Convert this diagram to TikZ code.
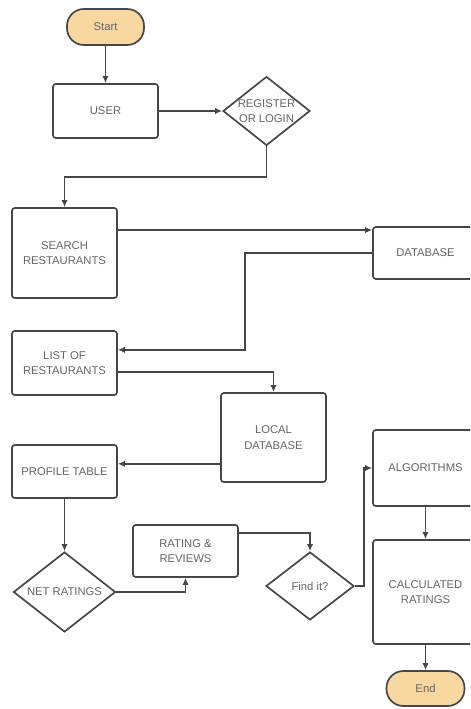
\documentclass[tikz,border=0pt]{standalone}
\usepackage{fontspec}
\setmainfont{Liberation Sans}
\usetikzlibrary{shapes.geometric,arrows.meta,calc}
\definecolor{linegray}{RGB}{70,70,70}
\definecolor{textgray}{RGB}{100,100,100}
\definecolor{termfill}{RGB}{249,215,160}
\newcommand{\pxu}{0.025cm}
\newcommand{\boxw}{105*\pxu}
\tikzset{
    procbox/.style={rectangle, draw=linegray, line width=1.2pt, rounded corners=2pt, minimum width=\boxw, align=center, text=textgray, font=\fontsize{8}{11}\selectfont},
    termbox/.style={rectangle, draw=linegray, line width=1.2pt, rounded corners=12pt, fill=termfill, text=textgray, font=\fontsize{8}{11}\selectfont},
    decision/.style={diamond, draw=linegray, line width=1.2pt, inner sep=0pt},
    dtext/.style={align=center, text=textgray, font=\fontsize{8}{11}\selectfont},
    arr/.style={draw=linegray, line width=1.2pt, -{Latex[length=5pt,width=4.5pt]}}
}

\begin{document}
\begin{tikzpicture}[x=\pxu, y=-\pxu]
    \useasboundingbox (0,0) rectangle (470,709);
    \clip (0,0) rectangle (470,709);

    \node[termbox, minimum width=77*\pxu, minimum height=36*\pxu] (start) at (105.5,27) {Start};
    \node[procbox, minimum height=54*\pxu] (user) at (105.5,111) {USER};
    \node[decision, minimum width=87*\pxu, minimum height=69*\pxu] (reg) at (266.5,111) {};
    \node[dtext] (regtext) at (reg) {REGISTER\\OR LOGIN};
    \node[procbox, minimum height=90*\pxu] (search) at (64.5,253) {SEARCH\\RESTAURANTS};
    \node[procbox, minimum height=52*\pxu] (database) at (425.5,253) {DATABASE};
    \node[procbox, minimum height=64*\pxu] (list) at (64.5,363) {LIST OF\\RESTAURANTS};
    \node[procbox, minimum height=89*\pxu] (localdb) at (273.5,437.5) {LOCAL\\DATABASE};
    \node[procbox, minimum height=53*\pxu] (profile) at (64.5,471.5) {PROFILE TABLE};
    \node[decision, minimum width=102*\pxu, minimum height=80*\pxu] (net) at (64.5,592) {};
    \node[dtext] (nettext) at (net) {NET RATINGS};
    \node[procbox, minimum height=52*\pxu] (rating) at (185.5,551) {RATING \&\\REVIEWS};
    \node[decision, minimum width=88*\pxu, minimum height=68*\pxu] (find) at (310,586) {};
    \node[dtext] (findtext) at (find) {Find it?};
    \node[procbox, minimum height=76*\pxu] (algo) at (425.5,468) {ALGORITHMS};
    \node[procbox, minimum height=104*\pxu] (calcr) at (425.5,592) {CALCULATED\\RATINGS};
    \node[termbox, minimum width=78*\pxu, minimum height=35*\pxu] (finish) at (425.5,688.5) {End};

    \draw[arr] (start.south) -- (user.north);
    \draw[arr] (user.east) -- (reg.west);
    \draw[arr] (reg.south) -- ++(0,31) -| (search.north);
    \draw[arr] ($(search.north east)!0.25!(search.south east)$) coordinate (s1) -- (s1 -| database.west);
    \draw[arr] (database.west) -- ++(-127,0) |- ($(list.north east)!0.3!(list.south east)$);
    \draw[arr] ($(list.north east)!0.64!(list.south east)$) -| (localdb.north);
    \draw[arr] ($(localdb.north west)!0.79!(localdb.south west)$) coordinate (l1) -- (l1 -| profile.east);
    \draw[arr] (profile.south) -- (net.north);
    \draw[arr] (net.east) -| (rating.south);
    \draw[arr] ($(rating.north east)!0.17!(rating.south east)$) -| (find.north);
    \draw[arr] (find.east) -- ++(9,0) |- (algo.west);
    \draw[arr] (algo.south) -- (calcr.north);
    \draw[arr] (calcr.south) -- (finish.north);
\end{tikzpicture}
\end{document}
